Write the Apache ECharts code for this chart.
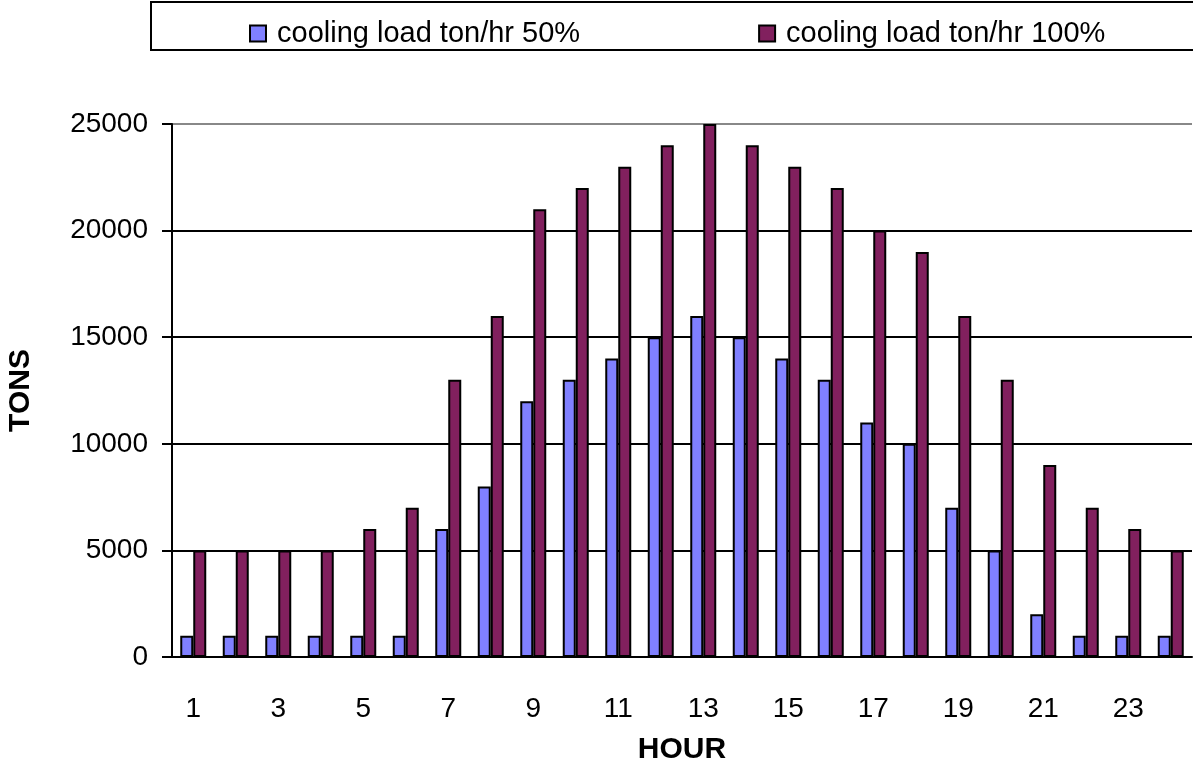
<!DOCTYPE html>
<html lang="en">
<head>
    <meta http-equiv="Content-Type" content="text/html; charset=utf-8" />
	<title>cooling load</title>
	<style>
	  html, body { margin: 0; padding: 0; background: #fff; }
	  #chart { width: 1193px; height: 763px; }
	</style>
</head>
<body>
    <div id="chart"></div>
<script type="text/javascript" src="https://cdn.jsdelivr.net/npm/echarts@6/dist/echarts.min.js"></script>
<script type="text/javascript">
      var chart = echarts.init(document.getElementById('chart'));

      // hours 1..24
      var hours = ['1','2','3','4','5','6','7','8','9','10','11','12',
                   '13','14','15','16','17','18','19','20','21','22','23','24'];
      // cooling load, tons
      var load50 = [1000,1000,1000,1000,1000,1000,6000,8000,12000,13000,14000,15000,
                    16000,15000,14000,13000,11000,10000,7000,5000,2000,1000,1000,1000];
      var load100 = [5000,5000,5000,5000,6000,7000,13000,16000,21000,22000,23000,24000,
                     25000,24000,23000,22000,20000,19000,16000,13000,9000,7000,6000,5000];
      var seriesNames = ['cooling load ton/hr 50%', 'cooling load ton/hr 100%'];
      var yTicks = [0, 5000, 10000, 15000, 20000, 25000];

      var font = 'Liberation Sans, Arial, sans-serif';

      var option = {
        backgroundColor: '#fff',
        animation: false,
        textStyle: { fontFamily: font, color: '#000' },
        color: ['#8080FF', '#81205E'],
        // legend frame
        graphic: [{
          type: 'rect',
          shape: { x: 151, y: 2, width: 1045, height: 48 },
          style: { fill: 'none', stroke: '#000', lineWidth: 2 }
        }],
        legend: {
          left: 244,
          top: 14,
          itemWidth: 16,
          itemHeight: 16,
          itemGap: 178,
          icon: 'rect',
          textStyle: { fontSize: 29, fontFamily: font, color: '#000', padding: [0, 0, 0, 6] },
          data: seriesNames
        },
        grid: { left: 172, right: 1, top: 124, bottom: 106, outerBoundsMode: 'none' },
        xAxis: {
          type: 'category',
          data: hours,
          name: 'HOUR',
          nameLocation: 'middle',
          nameGap: 78,
          nameTextStyle: { fontSize: 30, fontWeight: 'bold', fontFamily: font, color: '#000' },
          axisLine: { lineStyle: { color: '#000', width: 2 } },
          axisTick: { length: 8, lineStyle: { color: '#000', width: 2 } },
          axisLabel: { interval: 1, fontSize: 28, margin: 38, color: '#000', fontFamily: font }
        },
        yAxis: {
          type: 'value',
          min: yTicks[0],
          max: yTicks[yTicks.length - 1],
          interval: 5000,
          name: 'TONS',
          nameLocation: 'middle',
          nameGap: 136,
          nameTextStyle: { fontSize: 30, fontWeight: 'bold', fontFamily: font, color: '#000' },
          axisLine: { show: true, lineStyle: { color: '#000', width: 2 } },
          axisTick: { show: true, length: 10, lineStyle: { color: '#000', width: 2 } },
          axisLabel: {
            fontSize: 28, margin: 24, color: '#000', fontFamily: font,
            formatter: function (v) { return String(v); }
          },
          splitLine: { lineStyle: { color: ['#000','#000','#000','#000','#000','#888'], width: 2 } }
        },
        series: [
          {
            name: seriesNames[0],
            type: 'bar',
            data: load50,
            barWidth: 13,
            barGap: '0%',
            itemStyle: { borderColor: '#000', borderWidth: 2 }
          },
          {
            name: seriesNames[1],
            type: 'bar',
            data: load100,
            barWidth: 13,
            itemStyle: { borderColor: '#000', borderWidth: 2 }
          }
        ]
      };

      chart.setOption(option);
</script>
</body>
</html>
